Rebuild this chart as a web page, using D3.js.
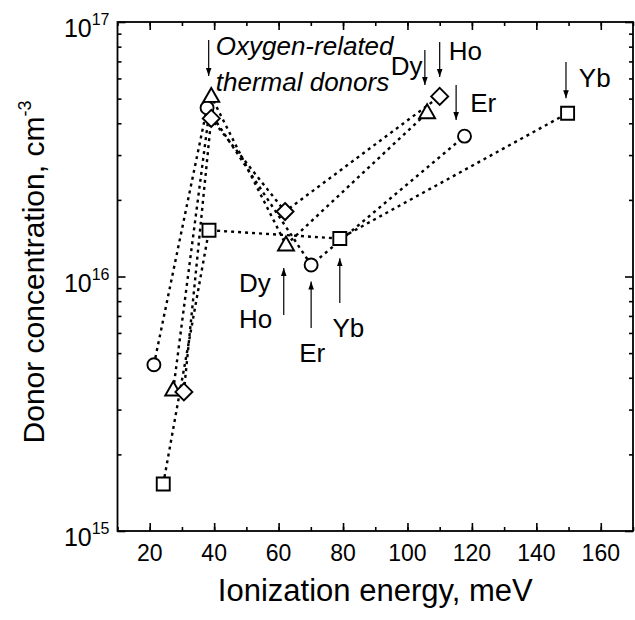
<!DOCTYPE html>
<html>
<head>
<meta charset="utf-8">
<script src="https://cdn.jsdelivr.net/npm/d3@7"></script>
<style>
  body { margin: 0; background: #fff; }
  text { font-family: "Liberation Sans", Arial, sans-serif; fill: #000; }
</style>
</head>
<body>
<div id="chart"></div>
<script>
// Chart data (ionization energy in meV, donor concentration in cm^-3)
var circleX = [21.3, 37.8, 70.1, 117.7];
var circleY = [4.5e15, 4.6e16, 1.11e16, 3.56e16];
var triangleX = [27.3, 39.1, 62.3, 106.1];
var triangleY = [3.58e15, 5.1e16, 1.33e16, 4.4e16];
var diamondX = [30.6, 39.1, 62.0, 110.0];
var diamondY = [3.52e15, 4.18e16, 1.8e16, 5.1e16];
var squareX = [24.2, 38.4, 79.0, 149.7];
var squareY = [1.53e15, 1.52e16, 1.41e16, 4.38e16];

var xTicks = [20, 40, 60, 80, 100, 120, 140, 160];
var yTickExp = [15, 16, 17];

// annotation labels and arrows, placed in data coordinates
var labelText = ["Dy", "Ho", "Er", "Yb", "Dy", "Ho", "Er", "Yb"];
var labelX = [94.8, 112.8, 119.5, 153.2, 47.7, 47.7, 66.4, 76.7];
var labelY = [6.2e16, 7.1e16, 4.43e16, 5.56e16, 8.7e15, 6.3e15, 4.61e15, 5.8e15];
var arrowX = [38.3, 105.4, 110.0, 115.1, 149.2, 61.6, 70.1, 79.0];
var arrowFrom = [8.49e16, 7.76e16, 8.34e16, 5.65e16, 6.97e16, 7.06e15, 6.28e15, 7.87e15];
var arrowTo = [6.14e16, 5.65e16, 6.08e16, 4.12e16, 5.02e16, 1.08e16, 9.55e15, 1.18e16];

var svgWidth = 635;
var svgHeight = 620;

var svg = d3.select("#chart")
  .append("svg")
  .attr("width", svgWidth)
  .attr("height", svgHeight);

svg.append("rect")
  .attr("width", svgWidth)
  .attr("height", svgHeight)
  .attr("fill", "#fff");

// Scales
var x = d3.scaleLinear()
  .domain([10, 170])
  .range([117.5, 633]);

var y = d3.scaleLog()
  .domain([1e15, 1e17])
  .range([531, 22]);

var plotLeft = x.range()[0], plotRight = x.range()[1];
var plotTop = y.range()[1], plotBottom = y.range()[0];

// Minor ticks
var xMinor = d3.range(10, 171, 10);
var yMinor = [];
[15, 16].forEach(function (e) {
  for (var k = 2; k <= 9; k++) yMinor.push(k * Math.pow(10, e));
});

function addAxis(axis, tx, ty) {
  var g = svg.append("g")
    .attr("transform", "translate(" + tx + "," + ty + ")")
    .call(axis);
  g.select(".domain").remove();
  g.selectAll(".tick line").attr("stroke", "#000").attr("stroke-width", 1.6);
  g.selectAll(".tick text").remove();
  return g;
}

// inward ticks on all four sides
var yMajor = [1e15, 1e16, 1e17];
addAxis(d3.axisBottom(x).tickValues(xTicks).tickSize(-8), 0, plotBottom);
addAxis(d3.axisBottom(x).tickValues(xMinor).tickSize(-4), 0, plotBottom);
addAxis(d3.axisTop(x).tickValues(xTicks).tickSize(-8), 0, plotTop);
addAxis(d3.axisTop(x).tickValues(xMinor).tickSize(-4), 0, plotTop);
addAxis(d3.axisLeft(y).tickValues(yMajor).tickSize(-8), plotLeft, 0);
addAxis(d3.axisLeft(y).tickValues(yMinor).tickSize(-4), plotLeft, 0);
addAxis(d3.axisRight(y).tickValues(yMajor).tickSize(-8), plotRight, 0);
addAxis(d3.axisRight(y).tickValues(yMinor).tickSize(-4), plotRight, 0);

// frame
svg.append("rect")
  .attr("x", plotLeft)
  .attr("y", plotTop)
  .attr("width", plotRight - plotLeft)
  .attr("height", plotBottom - plotTop)
  .attr("fill", "none")
  .attr("stroke", "#000")
  .attr("stroke-width", 1.8);

// x tick labels
svg.selectAll("text.xlab")
  .data(xTicks)
  .enter()
  .append("text")
  .attr("class", "xlab")
  .attr("x", d => x(d))
  .attr("y", plotBottom + 30)
  .attr("text-anchor", "middle")
  .attr("font-size", 23)
  .text(d => d);

// y tick labels with superscripts
var ylab = svg.selectAll("text.ylab")
  .data(yTickExp)
  .enter()
  .append("text")
  .attr("class", "ylab")
  .attr("x", plotLeft - 8)
  .attr("y", d => y(Math.pow(10, d)) + 15)
  .attr("text-anchor", "end")
  .attr("font-size", 25);
ylab.append("tspan").text("10");
ylab.append("tspan")
  .attr("font-size", 16)
  .attr("dy", -12)
  .text(d => d);

// axis titles
svg.append("text")
  .attr("x", (plotLeft + plotRight) / 2)
  .attr("y", 601)
  .attr("text-anchor", "middle")
  .attr("font-size", 31)
  .text("Ionization energy, meV");

var yTitle = svg.append("text")
  .attr("transform", "translate(44,272) rotate(-90)")
  .attr("text-anchor", "middle")
  .attr("font-size", 30);
yTitle.append("tspan").text("Donor concentration, cm");
yTitle.append("tspan").attr("font-size", 18).attr("dy", -13).text("-3");

// Lines
var line = d3.line()
  .x(d => x(d[0]))
  .y(d => y(d[1]));

var series = [
  { xs: circleX, ys: circleY, shape: "circle" },
  { xs: triangleX, ys: triangleY, shape: "triangle" },
  { xs: diamondX, ys: diamondY, shape: "diamond" },
  { xs: squareX, ys: squareY, shape: "square" }
];

series.forEach(function (s) {
  s.pts = s.xs.map((v, i) => [v, s.ys[i]]);
});

svg.selectAll("path.series")
  .data(series)
  .enter()
  .append("path")
  .attr("class", "series")
  .attr("d", d => line(d.pts))
  .attr("fill", "none")
  .attr("stroke", "#000")
  .attr("stroke-width", 2.4)
  .attr("stroke-dasharray", "3,4");

// Markers
var symbolPath = {
  circle: "M-6.5,0A6.5,6.5 0 1,0 6.5,0A6.5,6.5 0 1,0 -6.5,0Z",
  square: "M-6.5,-6.5H6.5V6.5H-6.5Z",
  triangle: "M0,-8.5L8,5.5H-8Z",
  diamond: "M0,-8.5L8.5,0L0,8.5L-8.5,0Z"
};

series.forEach(function (s) {
  svg.selectAll(null)
    .data(s.pts)
    .enter()
    .append("path")
    .attr("transform", d => "translate(" + x(d[0]) + "," + y(d[1]) + ")")
    .attr("d", symbolPath[s.shape])
    .attr("fill", "#fff")
    .attr("stroke", "#000")
    .attr("stroke-width", 1.9);
});

// Annotations
svg.append("defs").append("marker")
  .attr("id", "head")
  .attr("viewBox", "0 0 10 10")
  .attr("refX", 10)
  .attr("refY", 5)
  .attr("markerWidth", 8)
  .attr("markerHeight", 8)
  .attr("markerUnits", "userSpaceOnUse")
  .attr("orient", "auto")
  .append("path")
  .attr("d", "M0,1.5L10,5L0,8.5Z")
  .attr("fill", "#000");

arrowX.forEach(function (ax, i) {
  svg.append("line")
    .attr("x1", x(ax))
    .attr("x2", x(ax))
    .attr("y1", y(arrowFrom[i]))
    .attr("y2", y(arrowTo[i]))
    .attr("stroke", "#000")
    .attr("stroke-width", 1.2)
    .attr("marker-end", "url(#head)");
});

svg.selectAll("text.ann")
  .data(labelText)
  .enter()
  .append("text")
  .attr("class", "ann")
  .attr("x", (d, i) => x(labelX[i]))
  .attr("y", (d, i) => y(labelY[i]))
  .attr("font-size", 26)
  .text(d => d);

svg.append("text")
  .attr("x", x(40.5))
  .attr("y", y(7.42e16))
  .attr("font-size", 26)
  .attr("font-style", "italic")
  .text("Oxygen-related");

svg.append("text")
  .attr("x", x(40.5))
  .attr("y", y(5.37e16))
  .attr("font-size", 26)
  .attr("font-style", "italic")
  .text("thermal donors");
</script>
</body>
</html>
